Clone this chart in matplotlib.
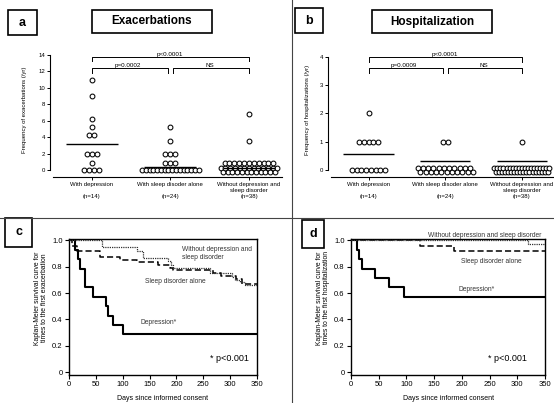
import matplotlib
matplotlib.use("Agg")
import matplotlib.pyplot as plt
from matplotlib.patches import Rectangle
from matplotlib.lines import Line2D
import numpy as np

plt.rcParams["font.family"] = ["Liberation Sans", "DejaVu Sans"]

W, H = 554, 403

# --- data -------------------------------------------------------------
group_names = ["With depression", "With sleep disoder alone",
               "Without depression and\nsleep disorder"]
group_n = ["(n=14)", "(n=24)", "(n=38)"]

exac_dep = [11, 9, 6.2, 5.2, 4.3, 4.3, 2, 2, 2, 0.9, 0, 0, 0, 0]
exac_sleep = [5.2, 3.5, 2, 2, 2, 0.9, 0.9, 0.9] + [0] * 16
exac_none = [6.8, 3.5] + [0.9] * 11 + [0] * 25
exac_mean = [3.2, 0.4, 0.3]

hosp_dep = [2] + [1] * 5 + [0] * 8
hosp_sleep = [1, 1] + [0] * 22
hosp_none = [1] + [0] * 37
hosp_mean = [0.57, 0.33, 0.33]

km_ticks_x = [0, 50, 100, 150, 200, 250, 300, 350]
km_ticks_y = [0, 0.2, 0.4, 0.6, 0.8, 1.0]

# panel c: time to first exacerbation
c_dep_t = [0, 12, 17, 20, 29, 45, 69, 72, 81, 100, 350]
c_dep_s = [1.0, 0.929, 0.857, 0.786, 0.643, 0.571, 0.5, 0.429, 0.357, 0.286, 0.286]
c_sleep_t = [0, 5, 14, 58, 95, 126, 166, 188, 194, 268, 283, 310, 322, 350]
c_sleep_s = [1.0, 0.958, 0.917, 0.875, 0.854, 0.833, 0.813, 0.792, 0.771,
             0.75, 0.729, 0.708, 0.667, 0.667]
c_none_t = [0, 61, 126, 137, 184, 189, 194, 262, 303, 309, 318, 327, 350]
c_none_s = [1.0, 0.947, 0.921, 0.868, 0.842, 0.816, 0.789, 0.75, 0.724,
            0.697, 0.684, 0.658, 0.658]

# panel d: time to first hospitalization
d_dep_t = [0, 10, 15, 20, 43, 69, 96, 350]
d_dep_s = [1.0, 0.929, 0.857, 0.786, 0.714, 0.643, 0.571, 0.571]
d_sleep_t = [0, 125, 185, 350]
d_sleep_s = [1.0, 0.958, 0.917, 0.917]
d_none_t = [0, 320, 350]
d_none_s = [1.0, 0.974, 0.974]

fig = plt.figure(figsize=(W / 100, H / 100), dpi=100)

SMALL = 4.3


def px_axes(x0, y0, x1, y1):
    return fig.add_axes([x0 / W, 1 - y1 / H, (x1 - x0) / W, (y1 - y0) / H])


def box(x0, y0, x1, y1, text, size):
    fig.add_artist(Rectangle((x0 / W, 1 - y1 / H), (x1 - x0) / W, (y1 - y0) / H,
                             transform=fig.transFigure, fill=False, lw=1.2, ec="black"))
    fig.text((x0 + x1) / 2 / W, 1 - (y0 + y1) / 2 / H, text, ha="center",
             va="center", fontsize=size, fontweight="bold")


def swarm(ax, vals, center, step, width, yjit):
    vals = np.asarray(vals, float)
    xs, ys = [], []
    for v in np.unique(vals):
        k = int(np.sum(vals == v))
        dx = min(step, width / max(k - 1, 1))
        xs.extend(center + (np.arange(k) - (k - 1) / 2) * dx)
        if k > 20:
            ys.extend(v + yjit * np.where(np.arange(k) % 2, -1, 1))
        else:
            ys.extend([v] * k)
    ax.scatter(xs, ys, s=12, facecolors="white", edgecolors="black",
               linewidths=0.75, zorder=3, clip_on=False)


def bracket(ax, x0, x1, y, drop, text, tx):
    ax.plot([x0, x0, x1, x1], [y - drop, y, y, y - drop], color="black",
            lw=0.7, clip_on=False)
    ax.text(tx, y, text, ha="center", va="bottom", fontsize=4.5, clip_on=False)


def dot_panel(ax, data, means, ylim, yticks, ylabel_x, ylabel):
    ax.set_xlim(-0.53, 2.42)
    ax.set_ylim(*ylim)
    jit = 0.018 * (ylim[1] - ylim[0])
    for i, vals in enumerate(data):
        swarm(ax, vals, i, 0.062, 0.72, jit)
        ax.hlines(means[i], i - 0.33, i + 0.33, color="black", lw=1.0, zorder=4)
    for s in ["top", "right"]:
        ax.spines[s].set_visible(False)
    ax.spines["left"].set_bounds(0, yticks[-1])
    ax.spines["bottom"].set_bounds(-0.49, 2.42)
    ax.spines["left"].set_linewidth(0.8)
    ax.spines["bottom"].set_linewidth(0.8)
    ax.set_yticks(yticks)
    ax.set_xticks(range(3))
    labels = []
    for g, n in zip(group_names, group_n):
        if "\n" in g:
            labels.append(g + "\n" + n)
        else:
            labels.append(g + "\n\n" + n)
    ax.set_xticklabels(labels, fontsize=SMALL, linespacing=1.25)
    ax.tick_params(axis="both", length=2.5, width=0.7, pad=1.2, labelsize=SMALL)
    ax.patch.set_visible(False)
    fig.text(ylabel_x / W, 1 - 110 / H, ylabel, rotation=90, ha="center",
             va="center", fontsize=SMALL)


# panel a
ax_a = px_axes(50, 55, 282, 177)
dot_panel(ax_a, [exac_dep, exac_sleep, exac_none], exac_mean, (-0.85, 14),
          list(range(0, 15, 2)), 25, "Frequency of exacerbations (/yr)")
bracket(ax_a, 0, 2, 13.76, 0.55, "p<0.0001", 1.0)
bracket(ax_a, 0, 0.97, 12.4, 0.55, "p=0.0002", 0.46)
bracket(ax_a, 1.03, 2, 12.4, 0.55, "NS", 1.5)

# panel b
ax_b = px_axes(328, 57, 554, 177)
dot_panel(ax_b, [hosp_dep, hosp_sleep, hosp_none], hosp_mean, (-0.25, 4),
          [0, 1, 2, 3, 4], 308, "Frequency of hospitalizations (/yr)")
bracket(ax_b, 0, 2, 4.0, 0.16, "p<0.0001", 1.0)
bracket(ax_b, 0, 0.97, 3.6, 0.17, "p=0.0009", 0.46)
bracket(ax_b, 1.03, 2, 3.6, 0.17, "NS", 1.5)


def km_panel(ax, curves, ylab_x, ylabel):
    styles = [dict(color="black", lw=1.5, ls="-"),
              dict(color="black", lw=1.1, ls=(0, (4, 2))),
              dict(color="#333333", lw=0.9, ls=(0, (1, 0.8)))]
    for (t, s), st in zip(curves, styles):
        ax.step(t, s, where="post", zorder=3, **st)
    ax.set_xlim(0, 350)
    ax.set_ylim(-0.022, 1.01)
    ax.set_xticks(km_ticks_x)
    ax.set_yticks(km_ticks_y)
    ax.set_yticklabels(["0", "0.2", "0.4", "0.6", "0.8", "1.0"])
    ax.tick_params(axis="both", length=3, width=0.8, pad=1.5, labelsize=5.5)
    for sp in ax.spines.values():
        sp.set_linewidth(1.0)
    fig.text(ylab_x / W, 1 - 298 / H, ylabel, rotation=90, ha="center",
             va="center", fontsize=4.9, linespacing=1.15)


# panel c
ax_c = px_axes(69, 239, 257, 375)
km_panel(ax_c, [(c_dep_t, c_dep_s), (c_sleep_t, c_sleep_s), (c_none_t, c_none_s)],
         41, "Kaplan-Meier survival curve for\ntimes to the first exacerbation")
lab = dict(fontsize=4.8, color="#333333")
ax_c.text(210, 0.90, "Without depression and\nsleep disorder", ha="left", va="center", **lab)
ax_c.text(142, 0.687, "Sleep disorder alone", ha="left", va="center", **lab)
ax_c.text(134, 0.38, "Depression*", ha="left", va="center", **lab)
ax_c.text(263, 0.1, "* p<0.001", ha="left", va="center", fontsize=6.5)
fig.text(163 / W, 1 - 398 / H, "Days since informed consent", ha="center",
         va="center", fontsize=5)

# panel d
ax_d = px_axes(351, 239, 545, 375)
km_panel(ax_d, [(d_dep_t, d_dep_s), (d_sleep_t, d_sleep_s), (d_none_t, d_none_s)],
         323, "Kaplan-Meier survival curve for\ntimes to the first hospitalization")
ax_d.text(242, 1.04, "Without depression and sleep disorder", ha="center",
          va="center", clip_on=False, **lab)
ax_d.text(254, 0.84, "Sleep disorder alone", ha="center", va="center", **lab)
ax_d.text(227, 0.63, "Depression*", ha="center", va="center", **lab)
ax_d.text(283, 0.1, "* p<0.001", ha="center", va="center", fontsize=6.5)
fig.text(449 / W, 1 - 398 / H, "Days since informed consent", ha="center",
         va="center", fontsize=5)

# frame boxes and titles
box(8, 10, 37, 35, "a", 9)
box(92, 10, 212, 33, "Exacerbations", 8.5)
box(295, 8, 323, 33, "b", 9)
box(372, 10, 492, 33, "Hospitalization", 8.5)
box(5, 218, 32, 247, "c", 9)
box(302, 220, 324, 248, "d", 9)

# panel dividers
fig.add_artist(Line2D([292 / W, 292 / W], [0, 1], transform=fig.transFigure,
                      color="#444444", lw=0.8))
fig.add_artist(Line2D([0, 1], [1 - 218 / H, 1 - 218 / H], transform=fig.transFigure,
                      color="#444444", lw=0.8))

fig.savefig("out.png", dpi=100)
